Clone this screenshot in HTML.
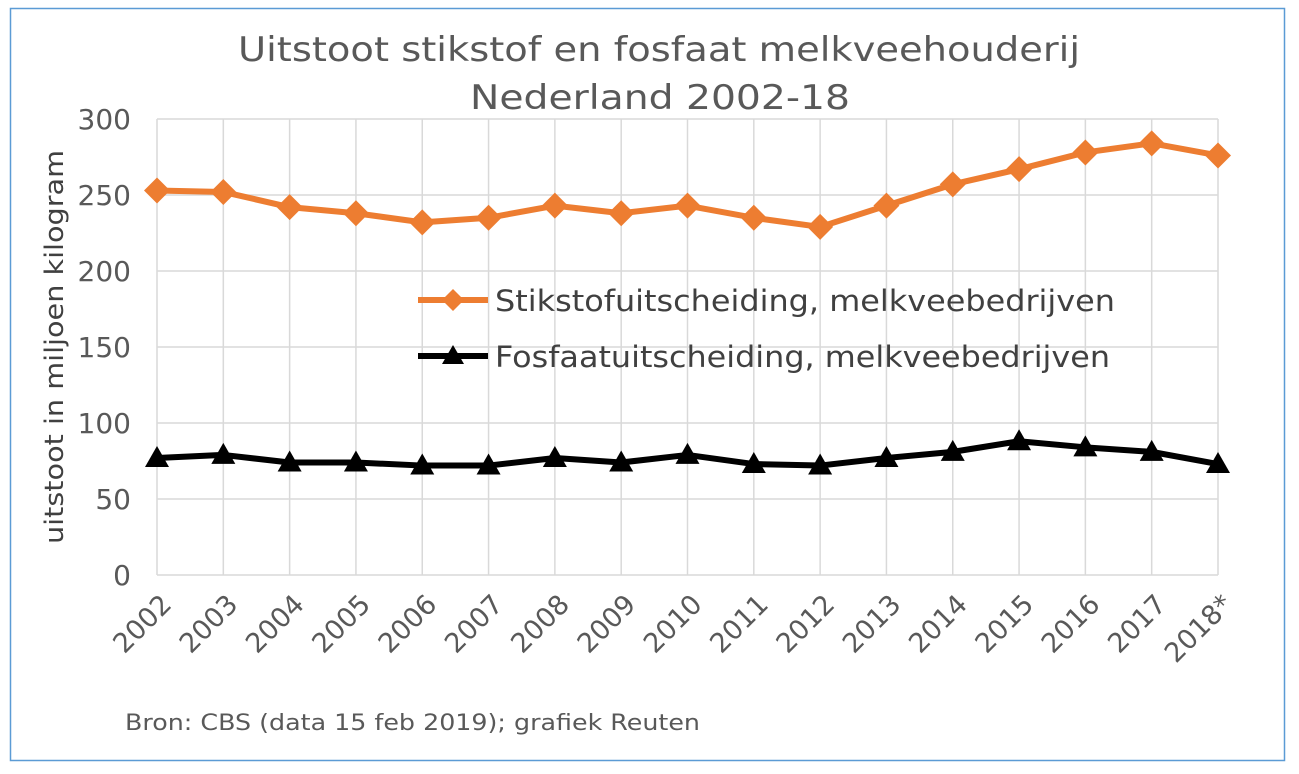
<!DOCTYPE html>
<html><head><meta charset="utf-8"><style>
html,body{margin:0;padding:0;background:#fff;}
svg{display:block;font-family:"DejaVu Sans","Liberation Sans",sans-serif;}
</style></head><body>
<svg width="1299" height="774" viewBox="0 0 1299 774" xmlns="http://www.w3.org/2000/svg">
<rect x="10.5" y="8.5" width="1274" height="752" fill="#fff" stroke="#5b9bd5" stroke-width="1.5"/>
<text x="238" y="61" font-size="34" fill="#595959" textLength="842" lengthAdjust="spacingAndGlyphs">Uitstoot stikstof en fosfaat melkveehouderij</text>
<text x="470" y="109" font-size="34" fill="#595959" textLength="380" lengthAdjust="spacingAndGlyphs">Nederland 2002-18</text>
<g id="grid" stroke="#d9d9d9" stroke-width="1.5" fill="none"></g>
<g id="ylab" font-size="28" fill="#595959" text-anchor="end"></g>
<g id="xlab" font-size="27" fill="#595959" text-anchor="end"></g>
<text transform="translate(63,347) rotate(-90)" x="-197" font-size="26" fill="#404040" textLength="394" lengthAdjust="spacingAndGlyphs">uitstoot in miljoen kilogram</text>
<g id="series"></g>
<line x1="418" y1="300" x2="488" y2="300" stroke="#ed7d31" stroke-width="6"/>
<path d="M453 289 L464 300 L453 311 L442 300Z" fill="#ed7d31"/>
<text x="495" y="311" font-size="29" fill="#404040" textLength="620" lengthAdjust="spacingAndGlyphs">Stikstofuitscheiding, melkveebedrijven</text>
<line x1="418" y1="356" x2="488" y2="356" stroke="#000" stroke-width="6"/>
<path d="M453 345 L464 364 L442 364Z" fill="#000"/>
<text x="495" y="367" font-size="29" fill="#404040" textLength="615" lengthAdjust="spacingAndGlyphs">Fosfaatuitscheiding, melkveebedrijven</text>
<text x="125" y="730" font-size="22" fill="#595959" textLength="575" lengthAdjust="spacingAndGlyphs">Bron: CBS (data 15 feb 2019); grafiek Reuten</text>
</svg>
<script>
const ns="http://www.w3.org/2000/svg";
const L=157,R=1218,T=119,B=575,st=(R-L)/16;
const Y=v=>B-v*(B-T)/300;
function el(n,a,p,t){const e=document.createElementNS(ns,n);for(const k in a)e.setAttribute(k,a[k]);if(t)e.textContent=t;document.getElementById(p).appendChild(e);return e;}
for(let i=0;i<=6;i++){const y=Y(i*50);el('line',{x1:L,x2:R,y1:y,y2:y},'grid');el('text',{x:131,y:y+10},'ylab',String(i*50));}
const yrs=['2002','2003','2004','2005','2006','2007','2008','2009','2010','2011','2012','2013','2014','2015','2016','2017','2018*'];
for(let i=0;i<17;i++){const x=L+i*st;el('line',{x1:x,x2:x,y1:T,y2:B},'grid');
el('text',{transform:`translate(${x+16},${B+31}) rotate(-45)`},'xlab',yrs[i]);}
const o=[253,252,242,238,232,235,243,238,243,235,229,243,257,267,278,284,276];
const b=[77,79,74,74,72,72,77,74,79,73,72,77,81,88,84,81,73];
el('polyline',{points:o.map((v,i)=>`${L+i*st},${Y(v)}`).join(' '),fill:'none',stroke:'#ed7d31','stroke-width':6,'stroke-linejoin':'round'},'series');
o.forEach((v,i)=>{const x=L+i*st,y=Y(v);el('path',{d:`M${x} ${y-13}L${x+13} ${y}L${x} ${y+13}L${x-13} ${y}Z`,fill:'#ed7d31'},'series');});
el('polyline',{points:b.map((v,i)=>`${L+i*st},${Y(v)}`).join(' '),fill:'none',stroke:'#000','stroke-width':6,'stroke-linejoin':'round'},'series');
b.forEach((v,i)=>{const x=L+i*st,y=Y(v);el('path',{d:`M${x} ${y-12}L${x+12} ${y+9}L${x-12} ${y+9}Z`,fill:'#000'},'series');});
</script>
</body></html>
